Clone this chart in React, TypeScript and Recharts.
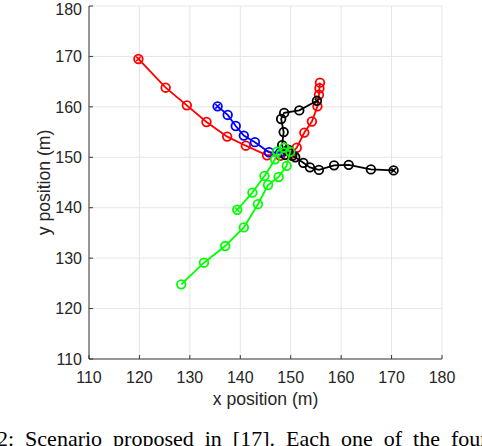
import React from 'react';
import {
  ScatterChart,
  Scatter,
  XAxis,
  YAxis,
  CartesianGrid,
} from 'recharts';

// trajectories (x, y in metres)
const RED_X = [119.8, 125.2, 129.4, 133.3, 137.4, 141.1, 145.3, 147.9, 150.1, 151.2, 152.7, 154.2, 155.3, 155.6, 155.7, 155.8];
const RED_Y = [169.5, 163.8, 160.3, 157.0, 154.1, 152.3, 150.4, 150.3, 150.7, 151.9, 154.9, 157.1, 160.1, 162.4, 163.7, 164.8];

const BLUE_X = [135.5, 137.5, 139.1, 140.7, 142.9, 145.7, 147.9, 149.9];
const BLUE_Y = [160.1, 158.4, 156.2, 154.3, 153.0, 151.0, 150.9, 151.1];

const BLACK_X = [155.2, 151.7, 148.7, 148.1, 148.6, 148.3, 148.9, 149.5, 150.3, 150.9, 152.5, 153.8, 155.6, 158.6, 161.5, 165.9, 170.4];
const BLACK_Y = [161.2, 159.3, 158.8, 157.6, 155.0, 152.4, 150.5, 151.5, 150.3, 150.0, 148.9, 148.0, 147.5, 148.4, 148.5, 147.6, 147.4];

const GREEN_X = [128.3, 132.8, 137.0, 140.7, 143.5, 145.5, 147.6, 149.2, 149.9, 148.7, 147.3, 146.9, 144.8, 142.4, 139.4];
const GREEN_Y = [124.8, 129.1, 132.4, 136.1, 140.7, 144.5, 146.1, 148.3, 151.1, 151.9, 151.1, 149.6, 146.3, 143.0, 139.6];

// indices of the points drawn with a cross inside the circle
const RED_MARKS = [0];
const BLUE_MARKS = [0];
const BLACK_MARKS = [0, BLACK_X.length - 1];
const GREEN_MARKS = [GREEN_X.length - 1];

const TICKS = [110, 120, 130, 140, 150, 160, 170, 180];

const toPoints = (xs: number[], ys: number[]) => xs.map((x, i) => ({ x, y: ys[i] }));

const FONT = 'Liberation Sans, Arial, sans-serif';
const TICK_STYLE = { fontFamily: FONT, fontSize: 16, fill: '#262626' };
const LABEL_STYLE = { fontFamily: FONT, fontSize: 17.6, fill: '#262626', textAnchor: 'middle' as const };
const AXIS_LINE = { stroke: '#262626', strokeWidth: 0.9 };

const makeShape = (color: string, xs: number[], ys: number[], marks: number[]) => (props: any) => {
  const { cx, cy, payload } = props;
  if (cx == null || cy == null) return <g />;
  const marked = marks.some((i) => xs[i] === payload?.x && ys[i] === payload?.y);
  const d = 2.3;
  return (
    <g>
      <circle cx={cx} cy={cy} r={4.3} fill="none" stroke={color} strokeWidth={1.8} />
      {marked && (
        <path
          d={`M${cx - d},${cy - d}L${cx + d},${cy + d}M${cx - d},${cy + d}L${cx + d},${cy - d}`}
          stroke={color}
          strokeWidth={1.5}
        />
      )}
    </g>
  );
};

const SERIES = [
  { color: '#ff0000', xs: RED_X, ys: RED_Y, marks: RED_MARKS },
  { color: '#0000ff', xs: BLUE_X, ys: BLUE_Y, marks: BLUE_MARKS },
  { color: '#000000', xs: BLACK_X, ys: BLACK_Y, marks: BLACK_MARKS },
  { color: '#00ff00', xs: GREEN_X, ys: GREEN_Y, marks: GREEN_MARKS },
];

export default function App() {
  return (
    <div
      style={{
        position: 'absolute',
        left: 0,
        top: 0,
        width: 482,
        height: 446,
        overflow: 'hidden',
        background: '#fff',
      }}
    >
      <ScatterChart width={482} height={420} margin={{ top: 6, right: 40, bottom: 1, left: 0 }}>
        <CartesianGrid stroke="#e6e6e6" strokeWidth={1} />
        <XAxis
          type="number"
          dataKey="x"
          domain={[110, 180]}
          ticks={TICKS}
          allowDataOverflow
          height={60}
          tick={TICK_STYLE}
          tickSize={-4}
          tickMargin={17}
          axisLine={AXIS_LINE}
          tickLine={AXIS_LINE}
          label={{ value: 'x position (m)', position: 'insideBottom', offset: 14, style: LABEL_STYLE }}
        />
        <XAxis
          xAxisId="top"
          orientation="top"
          type="number"
          domain={[110, 180]}
          ticks={TICKS}
          height={0}
          tick={false}
          tickSize={-4}
          axisLine={AXIS_LINE}
          tickLine={AXIS_LINE}
        />
        <YAxis
          type="number"
          dataKey="y"
          domain={[110, 180]}
          ticks={TICKS}
          allowDataOverflow
          width={89}
          tick={TICK_STYLE}
          tickSize={-4}
          tickMargin={11}
          axisLine={AXIS_LINE}
          tickLine={AXIS_LINE}
          label={{
            value: 'y position (m)',
            angle: -90,
            position: 'insideLeft',
            offset: 44,
            style: LABEL_STYLE,
          }}
        />
        <YAxis
          yAxisId="right"
          orientation="right"
          type="number"
          domain={[110, 180]}
          ticks={TICKS}
          width={0}
          tick={false}
          tickSize={-4}
          axisLine={AXIS_LINE}
          tickLine={AXIS_LINE}
        />
        {SERIES.map((s) => (
          <Scatter
            key={s.color}
            data={toPoints(s.xs, s.ys)}
            line={{ stroke: s.color, strokeWidth: 1.8 }}
            lineJointType="linear"
            shape={makeShape(s.color, s.xs, s.ys, s.marks)}
            isAnimationActive={false}
          />
        ))}
      </ScatterChart>
      <div
        style={{
          position: 'absolute',
          left: -3,
          top: 427,
          whiteSpace: 'nowrap',
          fontFamily: 'Liberation Serif, Times New Roman, serif',
          fontSize: 22,
          lineHeight: '24px',
          wordSpacing: 5.5,
          color: '#000',
        }}
      >
        2: Scenario proposed in [17]. Each one of the four
      </div>
    </div>
  );
}
